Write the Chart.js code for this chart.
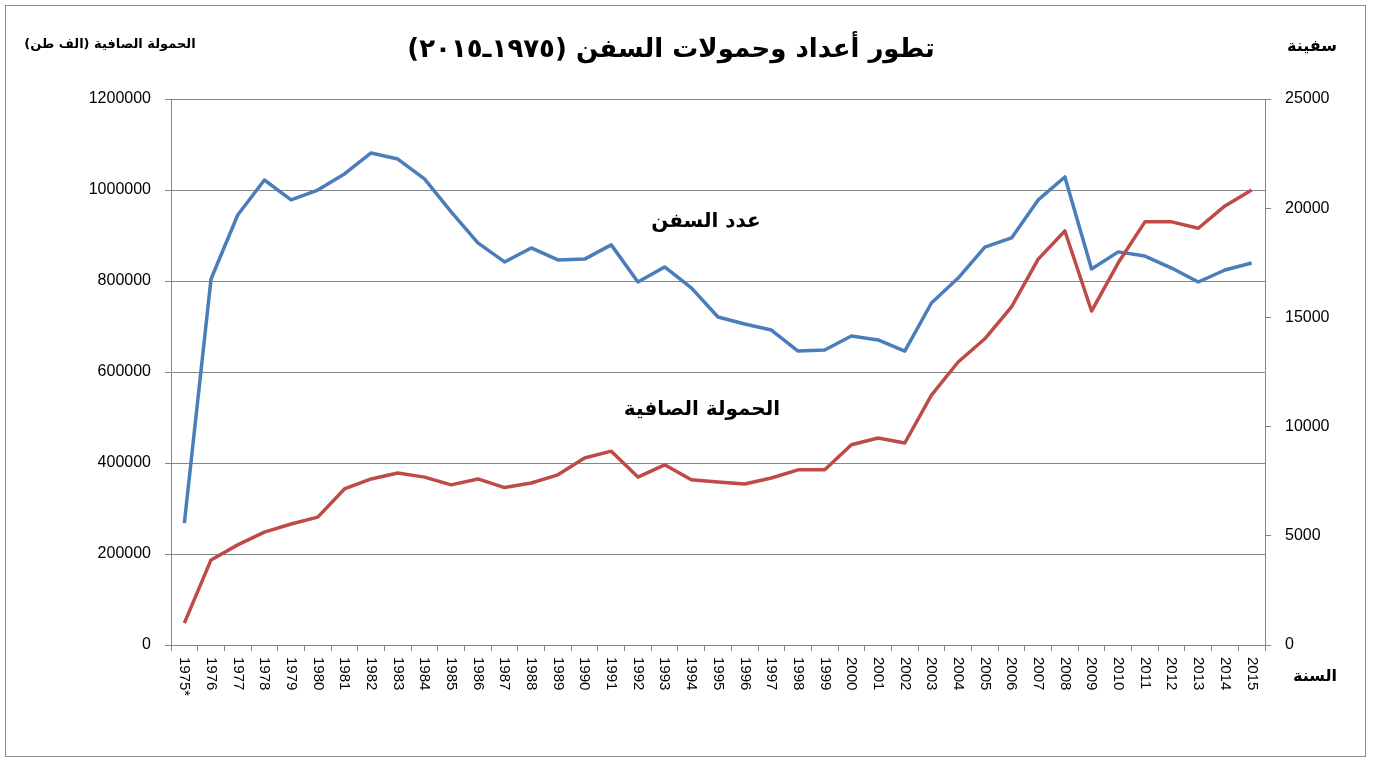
<!DOCTYPE html>
<html>
<head>
<meta charset="utf-8">
<script src="https://cdn.jsdelivr.net/npm/chart.js@4/dist/chart.umd.min.js"></script>
<style>
  body { margin: 0; background: #fff; }
  canvas { display: block; }
</style>
</head>
<body>
<canvas id="myChart" width="1375" height="760"></canvas>
<script>
// years on the x axis (first one has a footnote star)
const years = ['1975*', '1976', '1977', '1978', '1979', '1980', '1981', '1982', '1983', '1984',
    '1985', '1986', '1987', '1988', '1989', '1990', '1991', '1992', '1993', '1994',
    '1995', '1996', '1997', '1998', '1999', '2000', '2001', '2002', '2003', '2004',
    '2005', '2006', '2007', '2008', '2009', '2010', '2011', '2012', '2013', '2014', '2015'];

// number of ships (right axis)
const ships = [5580, 16760, 19690, 21290, 20380, 20830, 21570, 22530, 22250, 21340,
    19830, 18410, 17540, 18180, 17630, 17670, 18320, 16620, 17310, 16350,
    15020, 14700, 14420, 13460, 13510, 14150, 13970, 13460, 15660, 16800,
    18220, 18640, 20380, 21430, 17220, 18000, 17810, 17260, 16620, 17170, 17490];

// net tonnage, thousand tons (left axis)
const tonnage = [48000, 187000, 220000, 248000, 266000, 281000, 343000, 365000, 378000, 369000,
    352000, 365000, 346000, 356000, 374000, 411000, 426000, 369000, 396000, 363000,
    358000, 354000, 367000, 385000, 385000, 440000, 455000, 444000, 549000, 622000,
    673000, 743000, 848000, 910000, 734000, 840000, 930000, 930000, 916000, 965000, 1000000];

const leftTicks = ['0', '200000', '400000', '600000', '800000', '1000000', '1200000'];
const rightTicks = ['0', '5000', '10000', '15000', '20000', '25000'];

const titleText = 'تطور أعداد وحمولات السفن (١٩٧٥ـ٢٠١٥)';
const leftTitle = 'الحمولة الصافية (الف طن)';
const rightTitle = 'سفينة';
const xTitle = 'السنة';
const shipsLabel = 'عدد السفن';
const tonnageLabel = 'الحمولة الصافية';

const gridGray = '#868686';
const arabicFont = "'DejaVu Sans', sans-serif";

const extras = {
    id: 'extras',
    afterDraw(chart) {
        const ctx = chart.ctx;
        const x = chart.scales.x;

        // outer frame
        ctx.save();
        ctx.strokeStyle = '#8c8c8c';
        ctx.lineWidth = 1;
        ctx.strokeRect(5.5, 5.5, 1360, 751);
        ctx.restore();

        // year labels, rotated clockwise
        ctx.save();
        ctx.fillStyle = '#000';
        ctx.font = "15px 'Liberation Sans', Arial, sans-serif";
        ctx.textAlign = 'left';
        ctx.textBaseline = 'middle';
        years.forEach((label, i) => {
            ctx.save();
            ctx.translate(x.getPixelForValue(i), x.top + 12);
            ctx.rotate(Math.PI / 2);
            ctx.fillText(label, 0, 0);
            ctx.restore();
        });
        ctx.restore();

        // arabic texts
        ctx.save();
        ctx.direction = 'rtl';
        ctx.fillStyle = '#000';
        ctx.textAlign = 'center';
        ctx.textBaseline = 'middle';
        ctx.font = 'bold 26px ' + arabicFont;
        ctx.fillText(titleText, 671, 50);
        ctx.font = 'bold 13px ' + arabicFont;
        ctx.fillText(leftTitle, 110, 45);
        ctx.font = 'bold 16px ' + arabicFont;
        ctx.fillText(rightTitle, 1312, 47);
        ctx.fillText(xTitle, 1315, 677);
        ctx.font = 'bold 20px ' + arabicFont;
        ctx.fillText(shipsLabel, 706, 222);
        ctx.fillText(tonnageLabel, 702, 410);
        ctx.restore();
    }
};

const ctx = document.getElementById('myChart').getContext('2d');
const myChart = new Chart(ctx, {
    type: 'line',
    data: {
        labels: years,
        datasets: [{
            label: tonnageLabel,
            data: tonnage,
            yAxisID: 'yL',
            borderColor: '#BE4B48',
            borderWidth: 3.5,
            borderJoinStyle: 'round',
            pointRadius: 0,
            tension: 0
        }, {
            label: shipsLabel,
            data: ships,
            yAxisID: 'yR',
            borderColor: '#4A7EBB',
            borderWidth: 3.5,
            borderJoinStyle: 'round',
            pointRadius: 0,
            tension: 0
        }]
    },
    options: {
        responsive: false,
        animation: false,
        layout: { padding: { top: 99, left: 0, right: 0, bottom: 0 } },
        plugins: {
            legend: { display: false },
            title: { display: false },
            tooltip: { enabled: false }
        },
        scales: {
            x: {
                type: 'category',
                offset: true,
                grid: { offset: true, drawOnChartArea: false, tickLength: 6, color: gridGray },
                border: { color: gridGray },
                ticks: { display: false },
                afterFit(scale) { scale.height = 115; }
            },
            yL: {
                position: 'left',
                min: 0,
                max: 1200000,
                ticks: {
                    stepSize: 200000,
                    padding: 14,
                    color: '#000',
                    font: { family: "'Liberation Sans', Arial, sans-serif", size: 16 },
                    callback: (v, i) => leftTicks[i]
                },
                grid: { color: gridGray, tickLength: 6 },
                border: { color: gridGray },
                afterFit(scale) { scale.width = 171; }
            },
            yR: {
                position: 'right',
                min: 0,
                max: 25000,
                ticks: {
                    stepSize: 5000,
                    padding: 14,
                    color: '#000',
                    font: { family: "'Liberation Sans', Arial, sans-serif", size: 16 },
                    callback: (v, i) => rightTicks[i]
                },
                grid: { drawOnChartArea: false, color: gridGray, tickLength: 6 },
                border: { color: gridGray },
                afterFit(scale) { scale.width = 110; }
            }
        }
    },
    plugins: [extras]
});
</script>
</body>
</html>
